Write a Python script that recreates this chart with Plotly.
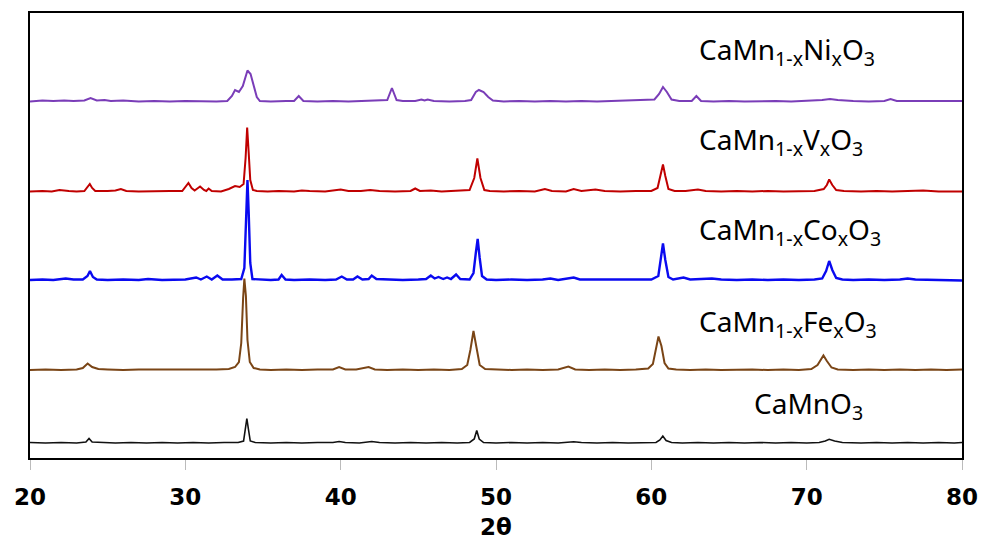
import plotly.graph_objects as go

# ---- data (2θ in degrees, intensity in stacked arbitrary units) ----
NI_2THETA = [20.0, 20.8, 21.5, 22.2, 22.8, 23.5, 23.9, 24.3, 24.8, 25.2, 26.0, 27.0, 28.0, 29.0, 30.0, 31.0, 32.0,
             32.7, 33.0, 33.2, 33.45, 33.7, 34.0, 34.2, 34.4, 34.6, 34.8, 35.5, 36.5, 37.0, 37.3, 37.6, 38.5,
             39.5, 40.5, 41.5, 42.5, 43.0, 43.3, 43.6, 44.0, 44.8, 45.2, 45.4, 45.6, 46.0, 47.0, 48.0, 48.4,
             48.7, 48.9, 49.2, 49.5, 49.8, 50.5, 51.5, 52.5, 53.5, 54.5, 55.5, 56.5, 57.5, 58.5, 59.5, 60.2,
             60.5, 60.75, 61.0, 61.3, 61.8, 62.6, 62.9, 63.2, 64.0, 65.0, 66.0, 67.0, 68.0, 69.0, 70.0, 71.0,
             71.5, 72.0, 73.0, 74.0, 75.0, 75.4, 75.8, 76.5, 77.5, 78.5, 79.5, 80.0]
NI_INT = [356.5, 357.5, 357, 357.5, 357, 357.5, 360, 357.5, 358, 357, 357.5, 356.5, 357, 356.5, 357, 356.5, 356.5,
          357, 362, 368, 366, 372, 387.5, 384, 373, 361, 357, 356.5, 357, 357, 362, 357, 356.5,
          357, 356.5, 357, 357, 358, 370, 358, 357, 357, 358.5, 357.5, 358.5, 357, 356.5, 357, 358,
          366, 368, 366, 361, 357.5, 356.5, 357, 356.5, 357, 356.5, 357, 356.5, 357, 357, 357.5, 358.5,
          364, 371, 366, 358.5, 357, 357, 362, 357, 356.5, 357, 356.5, 357, 357, 356.5, 357, 358,
          359, 358, 357, 356.5, 357, 359, 357, 357, 356.5, 357, 356.5, 357]

V_2THETA = [20.0, 20.8, 21.4, 21.9, 22.5, 23.0, 23.5, 23.7, 23.85, 24.0, 24.2, 25.0, 25.5, 25.85, 26.2, 27.0, 28.0,
            29.0, 29.8, 30.05, 30.2, 30.4, 30.6, 30.95, 31.2, 31.35, 31.5, 31.7, 32.3, 32.8, 33.2, 33.5, 33.75,
            33.88, 33.98, 34.08, 34.18, 34.35, 34.6, 35.3, 36.0, 37.0, 37.5, 38.0, 39.0, 40.0, 40.5, 41.3, 41.9,
            42.5, 43.5, 44.5, 44.8, 45.1, 45.8, 46.5, 47.5, 48.3, 48.6, 48.8, 49.0, 49.25, 49.6, 50.5, 51.5,
            52.5, 53.15, 53.6, 54.5, 55.0, 55.5, 56.4, 57.0, 58.0, 59.0, 60.0, 60.4, 60.6, 60.75, 60.9, 61.1,
            61.5, 62.2, 63.0, 63.5, 64.5, 65.5, 66.5, 67.5, 68.5, 69.5, 70.5, 71.1, 71.3, 71.45, 71.65, 71.9,
            72.4, 73.5, 74.5, 75.5, 76.5, 77.5, 78.5, 79.5, 80.0]
V_INT = [266.5, 267, 266.5, 268, 267, 266.5, 267, 271, 274, 270, 267, 267, 267.5, 269, 267, 266.5, 267,
         267, 267, 272, 275, 270, 267.5, 271.5, 268, 267, 269.5, 267, 266.5, 269, 272, 271, 274,
         300, 330.5, 305, 278, 268, 267, 266.5, 267, 266.5, 267.5, 267, 266.5, 268.5, 267, 267, 268,
         267, 266.5, 267, 269.5, 267, 267.5, 266.5, 267, 268, 280, 299.5, 280, 268, 267, 266.5, 267,
         266.5, 269, 267, 266.5, 269, 267, 268.5, 267, 266.5, 267, 267, 270, 282, 293.5, 282, 269,
         267, 267, 268.5, 267, 266.5, 267, 266.5, 267, 266.5, 267, 267, 269, 273, 278.5, 273, 268,
         267, 266.5, 267, 266.5, 267, 267.5, 266.5, 267, 266.5]

CO_2THETA = [20.0, 20.8, 21.5, 22.3, 22.8, 23.4, 23.7, 23.86, 24.05, 24.3, 25.0, 26.0, 27.0, 27.6, 28.5, 29.3, 30.0,
             30.7, 31.0, 31.38, 31.7, 32.06, 32.4, 33.0, 33.6, 33.8, 33.92, 34.0, 34.08, 34.18, 34.32, 34.8, 35.5,
             36.0, 36.2, 36.45, 37.0, 38.0, 39.0, 39.7, 40.07, 40.4, 40.8, 41.08, 41.4, 41.8, 42.0, 42.3, 43.0,
             44.0, 45.0, 45.5, 45.8, 46.05, 46.3, 46.6, 46.85, 47.1, 47.43, 47.7, 48.3, 48.55, 48.7, 48.82, 48.95,
             49.1, 49.4, 50.0, 51.0, 52.0, 53.0, 53.5, 54.0, 55.0, 55.4, 56.0, 57.0, 58.0, 59.0, 60.0, 60.45,
             60.62, 60.75, 60.9, 61.1, 61.4, 62.07, 62.5, 63.9, 64.5, 65.5, 66.5, 67.5, 68.5, 69.5, 70.5, 71.0,
             71.25, 71.45, 71.65, 71.9, 72.3, 73.0, 74.0, 75.0, 76.0, 76.5, 77.0, 78.0, 79.0, 80.0]
CO_INT = [178, 178.5, 178, 179.5, 178.5, 178.5, 182, 187, 181, 178.5, 178, 178.5, 178, 179, 178, 178.5, 178.5,
          180.5, 178.5, 181.5, 178.5, 182.5, 178.5, 178.5, 179, 190, 240, 278, 245, 195, 179, 178.5, 178,
          178.5, 183, 178.5, 178, 178.5, 178, 178.5, 181.5, 178.5, 178.5, 181.5, 178.5, 179, 182.5, 179, 178.5,
          178, 178.5, 179, 182.5, 179.5, 181, 179, 180.5, 179, 183.5, 179, 178.5, 185, 205, 219, 200,
          182, 178.5, 178, 178.5, 178, 178.5, 179.5, 178, 180.5, 178.5, 178.5, 178, 178.5, 178.5, 178.5, 182,
          200, 214.5, 198, 181, 178.5, 180.5, 178.5, 179.5, 178.5, 178, 178.5, 178, 178.5, 178, 178.5, 179.5,
          187, 197, 188, 180, 178.5, 178, 178.5, 178, 178.5, 179.5, 178.5, 178, 178, 177.5]

FE_2THETA = [20.0, 21.0, 22.0, 23.0, 23.4, 23.71, 24.0, 24.4, 25.0, 26.0, 27.0, 28.0, 29.0, 30.0, 31.0, 32.0, 32.8,
             33.2, 33.45, 33.6, 33.72, 33.8, 33.9, 34.0, 34.15, 34.4, 34.8, 35.5, 36.5, 37.5, 38.5, 39.5, 39.9,
             40.3, 41.0, 41.8, 42.2, 43.0, 44.0, 45.0, 46.0, 47.0, 47.8, 48.15, 48.35, 48.55, 48.75, 48.95, 49.3,
             50.0, 51.0, 52.0, 53.0, 54.0, 54.66, 55.1, 56.0, 57.0, 58.0, 59.0, 59.8, 60.1, 60.3, 60.46, 60.65,
             60.85, 61.1, 61.6, 62.5, 63.5, 64.5, 65.5, 66.5, 67.5, 68.5, 69.5, 70.3, 70.7, 70.95, 71.08, 71.3,
             71.6, 72.0, 73.0, 74.0, 75.0, 76.0, 77.0, 78.0, 79.0, 80.0]
FE_INT = [88, 88.5, 88, 88.5, 90, 94.5, 91, 89, 88.5, 88, 88.5, 88.5, 88, 88.5, 88, 88.5, 89,
          91, 96, 115, 160, 179.5, 162, 118, 96, 90, 88.5, 88, 88.5, 88, 88.5, 88.5, 91,
          88.5, 88.5, 91, 88.5, 88, 88.5, 88, 88.5, 88, 89, 93, 108, 127, 110, 93, 89,
          88.5, 88, 88.5, 88, 88.5, 91.5, 88.5, 88, 88.5, 88, 88.5, 89.5, 94, 110, 121.5, 112,
          95, 89.5, 88.5, 88, 88.5, 88, 88.5, 88.5, 88, 88.5, 88, 89, 93, 100, 102.5, 97,
          90.5, 88.5, 88, 88.5, 88, 88.5, 88, 88.5, 88, 88.5]

CAMNO3_2THETA = [20.0, 21.0, 22.0, 23.0, 23.6, 23.8, 24.0, 24.5, 25.5, 26.5, 27.5, 28.5, 29.5, 30.5, 31.5, 32.5,
                 33.4, 33.75, 33.88, 33.96, 34.05, 34.18, 34.5, 35.5, 36.5, 37.5, 38.5, 39.5, 39.9, 40.3, 41.2,
                 42.0, 42.5, 43.5, 44.5, 45.5, 46.5, 47.5, 48.3, 48.6, 48.76, 48.92, 49.2, 50.0, 51.0, 52.0,
                 53.0, 54.0, 55.0, 55.5, 56.5, 57.5, 58.5, 59.5, 60.3, 60.55, 60.74, 60.95, 61.3, 62.0, 63.0,
                 64.0, 65.0, 66.0, 67.0, 68.0, 69.0, 70.0, 70.8, 71.2, 71.45, 71.8, 72.3, 73.5, 74.5, 75.5,
                 76.5, 77.5, 78.5, 79.5, 80.0]
CAMNO3_INT = [15.5, 15, 15.5, 15, 16, 19.5, 16, 15.5, 15, 15.5, 15, 15.5, 15, 15.5, 15, 15.5,
              15.5, 17, 30, 39.5, 30, 17, 15.5, 15, 15.5, 15, 15.5, 15.5, 16.5, 15.5, 15,
              16.5, 15.5, 15, 15.5, 15, 15.5, 15, 15.5, 19, 27.5, 19, 15.5, 15, 15.5, 15,
              15.5, 15, 16.3, 15.5, 15, 15.5, 15, 15.5, 15.5, 18, 22, 17.5, 15.5, 15, 15.5,
              15, 15.5, 15, 15.5, 15, 15.5, 15, 15.5, 17, 18.7, 17, 15.5, 15, 15.5, 15,
              15.5, 15, 15.5, 15, 15.5]

LABELS = ["CaMn<sub>1-x</sub>Ni<sub>x</sub>O<sub>3</sub>",
          "CaMn<sub>1-x</sub>V<sub>x</sub>O<sub>3</sub>",
          "CaMn<sub>1-x</sub>Co<sub>x</sub>O<sub>3</sub>",
          "CaMn<sub>1-x</sub>Fe<sub>x</sub>O<sub>3</sub>",
          "CaMnO<sub>3</sub>"]
TICKS = [20, 30, 40, 50, 60, 70, 80]

# ---- figure ----
series = [
    (NI_2THETA, NI_INT, "#7A3DB8", 2.0),
    (V_2THETA, V_INT, "#C00000", 2.0),
    (CO_2THETA, CO_INT, "#0A0AF0", 2.4),
    (FE_2THETA, FE_INT, "#7A4516", 2.0),
    (CAMNO3_2THETA, CAMNO3_INT, "#111111", 1.6),
]

fig = go.Figure()
for (xs, ys, col, w), name in zip(series, LABELS):
    fig.add_trace(go.Scatter(x=xs, y=ys, mode="lines", name=name,
                             line=dict(color=col, width=w), showlegend=False))

label_pos = [(62.95, 407), (62.95, 317), (62.95, 227), (62.95, 135), (66.5, 53)]
for name, (lx, ly) in zip(LABELS, label_pos):
    fig.add_annotation(x=lx, y=ly, xref="x", yref="y", text=name, showarrow=False,
                       xanchor="left", yanchor="middle",
                       font=dict(family="Noto Sans", size=28, color="black"))

fig.update_layout(
    width=982, height=542,
    margin=dict(l=30, r=20, t=13, b=84),
    paper_bgcolor="white", plot_bgcolor="white",
    xaxis=dict(range=[20, 80], tickvals=TICKS, ticktext=[str(t) for t in TICKS],
               automargin=False,
               showgrid=False, zeroline=False, showline=True, mirror=True,
               linecolor="black", linewidth=2, ticks="outside", ticklen=10,
               tickcolor="#bbbbbb", tickwidth=1, ticklabelstandoff=7,
               tickfont=dict(family="DejaVu Sans", size=23, color="black", weight="bold"),
               title=dict(text="2θ", standoff=10,
                          font=dict(family="DejaVu Sans", size=23, color="black", weight="bold"))),
    yaxis=dict(range=[0, 445], showticklabels=False, showgrid=False, zeroline=False,
               automargin=False,
               showline=True, mirror=True, linecolor="black", linewidth=2, ticks=""),
)

fig.write_html("out.html")
